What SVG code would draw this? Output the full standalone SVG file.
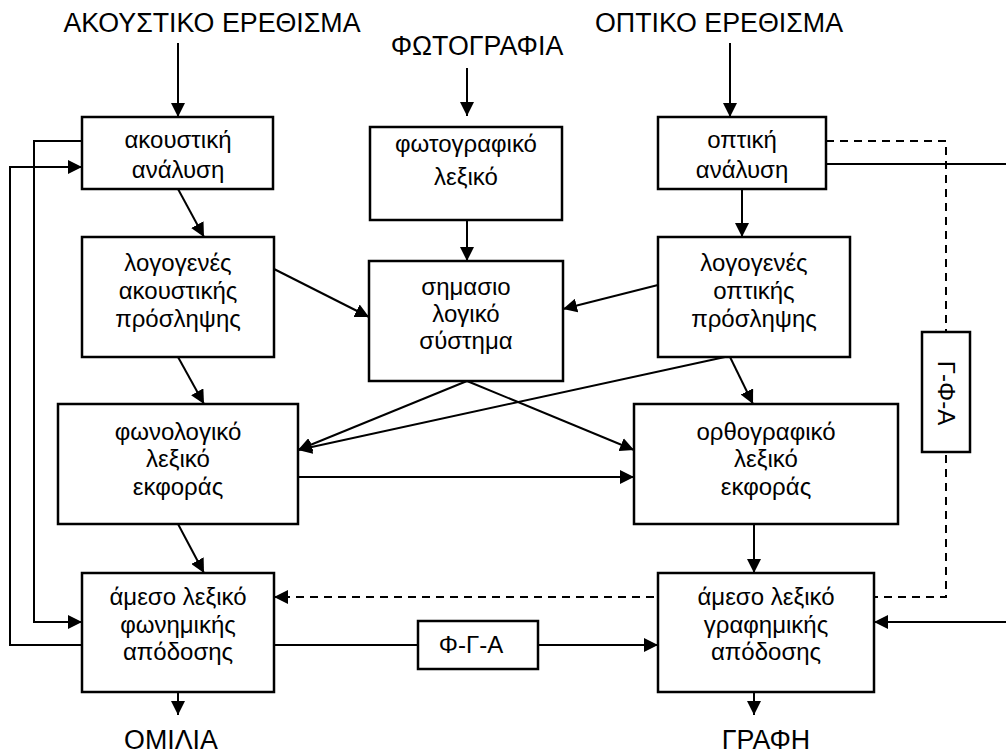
<svg xmlns="http://www.w3.org/2000/svg" width="1006" height="753" viewBox="0 0 1006 753">
<style>
.box{fill:#fff;stroke:#000;stroke-width:2.5}
.ln{fill:none;stroke:#000;stroke-width:2}
.ar{marker-end:url(#a)}
.ds{stroke-dasharray:8 6}
text{font-family:"Liberation Sans",Arial,sans-serif;font-size:24px;fill:#000;text-anchor:middle}
.t{font-size:26.8px}
</style>
<defs>
<marker id="a" markerWidth="14" markerHeight="14" refX="14" refY="7" orient="auto" markerUnits="userSpaceOnUse"><path d="M0,0 L14,7 L0,14 z" fill="#000"/></marker>
</defs>
<g id="connectors">
<line class="ln ar" x1="178" y1="43" x2="178" y2="117"/>
<line class="ln ar" x1="467" y1="68" x2="467" y2="116"/>
<line class="ln ar" x1="730" y1="43" x2="730" y2="117"/>
<line class="ln ar" x1="467" y1="220" x2="467" y2="261"/>
<line class="ln ar" x1="178" y1="189" x2="204" y2="237"/>
<line class="ln ar" x1="742" y1="189" x2="742" y2="237"/>
<line class="ln ar" x1="274" y1="269" x2="369" y2="317"/>
<line class="ln ar" x1="658" y1="285" x2="563" y2="309"/>
<line class="ln ar" x1="178" y1="357" x2="204" y2="404"/>
<line class="ln ar" x1="730" y1="357" x2="753" y2="404"/>
<line class="ln ar" x1="467" y1="381" x2="298" y2="450"/>
<line class="ln ar" x1="725" y1="357" x2="298" y2="450"/>
<line class="ln ar" x1="467" y1="381" x2="634" y2="450"/>
<line class="ln ar" x1="298" y1="477" x2="634" y2="477"/>
<line class="ln ar" x1="178" y1="524" x2="204" y2="573"/>
<line class="ln ar" x1="754" y1="524" x2="754" y2="573"/>
<line class="ln ar" x1="178" y1="692" x2="178" y2="715"/>
<line class="ln ar" x1="754" y1="692" x2="754" y2="715"/>
<line class="ln" x1="274" y1="645" x2="418" y2="645"/>
<line class="ln ar" x1="538" y1="645" x2="658" y2="645"/>
<polyline class="ln ar" points="82,645 10,645 10,167 82,167"/>
<polyline class="ln ar" points="82,141 34,141 34,622 82,622"/>
<line class="ln" x1="826" y1="164" x2="1006" y2="164"/>
<polyline class="ln ar ds" points="826,141 946,141 946,597 274,597"/>
<line class="ln ar" x1="1006" y1="622" x2="874" y2="622"/>
</g>
<g id="titles">
<text class="t" x="212" y="32">ΑΚΟΥΣΤΙΚΟ ΕΡΕΘΙΣΜΑ</text>
<text class="t" x="477" y="55">ΦΩΤΟΓΡΑΦΙΑ</text>
<text class="t" x="719" y="32">ΟΠΤΙΚΟ ΕΡΕΘΙΣΜΑ</text>
<text class="t" x="171" y="749">ΟΜΙΛΙΑ</text>
<text class="t" x="766" y="749">ΓΡΑΦΗ</text>
</g>
<g id="n-akoustiki-analysi">
<rect class="box" x="82" y="117" width="191" height="72"/>
<text x="178" y="148">ακουστική</text>
<text x="178" y="178">ανάλυση</text>
</g>
<g id="n-fotografiko-lexiko">
<rect class="box" x="370" y="127" width="192" height="93"/>
<text x="466" y="152">φωτογραφικό</text>
<text x="466" y="185">λεξικό</text>
</g>
<g id="n-optiki-analysi">
<rect class="box" x="658" y="117" width="168" height="72"/>
<text x="742" y="148">οπτική</text>
<text x="742" y="178">ανάλυση</text>
</g>
<g id="n-logogenes-akoustikis">
<rect class="box" x="82" y="237" width="192" height="120"/>
<text x="178" y="271">λογογενές</text>
<text x="178" y="299">ακουστικής</text>
<text x="178" y="327">πρόσληψης</text>
</g>
<g id="n-simasiologiko">
<rect class="box" x="369" y="261" width="194" height="120"/>
<text x="466" y="295">σημασιο</text>
<text x="466" y="322">λογικό</text>
<text x="466" y="349">σύστημα</text>
</g>
<g id="n-logogenes-optikis">
<rect class="box" x="658" y="237" width="192" height="120"/>
<text x="754" y="271">λογογενές</text>
<text x="754" y="299">οπτικής</text>
<text x="754" y="327">πρόσληψης</text>
</g>
<g id="n-fonologiko">
<rect class="box" x="58" y="404" width="240" height="120"/>
<text x="178" y="440">φωνολογικό</text>
<text x="178" y="467">λεξικό</text>
<text x="178" y="495">εκφοράς</text>
</g>
<g id="n-orthografiko">
<rect class="box" x="634" y="404" width="264" height="120"/>
<text x="766" y="440">ορθογραφικό</text>
<text x="766" y="467">λεξικό</text>
<text x="766" y="495">εκφοράς</text>
</g>
<g id="n-fonimikis">
<rect class="box" x="82" y="573" width="192" height="119"/>
<text x="178" y="605">άμεσο λεξικό</text>
<text x="178" y="633">φωνημικής</text>
<text x="178" y="660">απόδοσης</text>
</g>
<g id="n-grafimikis">
<rect class="box" x="658" y="573" width="216" height="119"/>
<text x="766" y="605">άμεσο λεξικό</text>
<text x="766" y="633">γραφημικής</text>
<text x="766" y="660">απόδοσης</text>
</g>
<g id="n-fga">
<rect class="box" x="418" y="621" width="120" height="48"/>
<text x="471" y="653">Φ-Γ-Α</text>
</g>
<g id="n-gfa">
<rect class="box" x="922" y="332" width="48" height="120"/>
<text x="938" y="393" transform="rotate(90 938 393)">Γ-Φ-Α</text>
</g>
</svg>
